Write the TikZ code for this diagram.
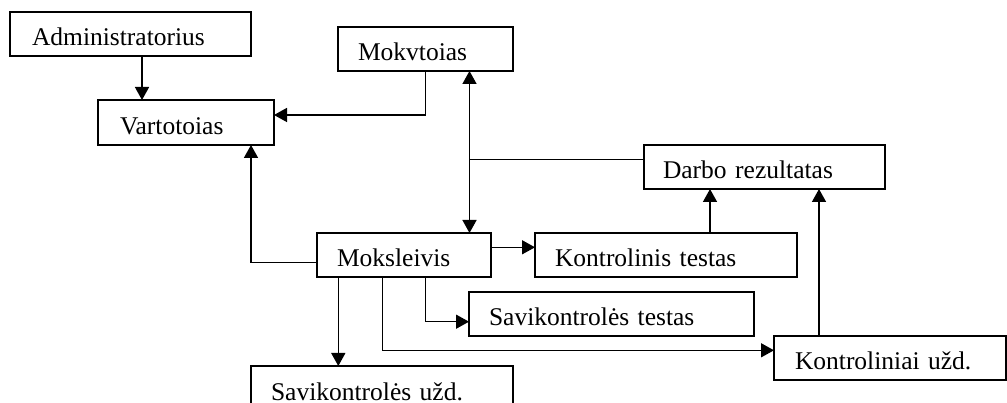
\documentclass[tikz,border=0pt]{standalone}
\usepackage{fontspec}
\setmainfont{Liberation Serif}
\usetikzlibrary{arrows.meta}

\begin{document}
\begin{tikzpicture}[x=1pt, y=-1pt,
  box/.style={draw, line width=1.5pt, inner xsep=0pt, inner ysep=0pt,
    outer sep=0pt, minimum height=44pt, text height=24pt, text depth=0pt,
    align=left, font=\fontsize{25.5}{30}\selectfont},
  link/.style={line width=1.5pt},
  arr/.style={link, -{Triangle[length=13pt, width=14pt]}},
  arrboth/.style={link, {Triangle[length=13pt, width=14pt]}-{Triangle[length=13pt, width=14pt]}}]

  % canvas
  \fill[white] (0,0) rectangle (1007,403);
  \useasboundingbox (0,0) rectangle (1007,403);

  % boxes
  \node[box, minimum width=241pt, text width=197pt] (admin) at (130.5,34) {Administratorius};
  \node[box, minimum width=175pt, text width=135pt] (mokyt) at (425.5,49) {Mokvtoias};
  \node[box, minimum width=176pt, minimum height=45pt, text width=132pt] (vart) at (186,122.5) {Vartotoias};
  \node[box, minimum width=241pt, text width=203pt] (darbo) at (764.5,167) {Darbo rezultatas};
  \node[box, minimum width=174pt, text width=134pt] (moks) at (404,255) {Moksleivis};
  \node[box, minimum width=262pt, text width=222pt] (ktest) at (666,255) {Kontrolinis testas};
  \node[box, minimum width=285pt, text width=245pt] (stest) at (611.5,314) {Savikontrolės testas};
  \node[box, minimum width=232pt, text width=190pt] (kuzd) at (890,358) {Kontroliniai užd.};
  \node[box, minimum width=262pt, text width=222pt] (suzd) at (382,388) {Savikontrolės užd.};

  % helper points
  \coordinate (mid) at ([xshift=65.5pt]moks.north);
  \coordinate (dj) at ([yshift=7.7pt]darbo.west);

  % connectors
  \draw[arr] ([xshift=11.5pt]admin.south) -- ([xshift=-44pt]vart.north);
  \draw[arr] (mokyt.south) |- ([yshift=7.5pt]vart.east);
  \draw[arrboth] (mid) -- ([xshift=44pt]mokyt.south);
  \draw[link] (dj) -- (dj -| mid);
  \draw[arr] ([yshift=7.7pt]moks.east) -- ([yshift=7.7pt]ktest.west);
  \draw[arr] ([xshift=44pt]ktest.north) -- ([xshift=-54.5pt]darbo.south);
  \draw[arr] ([xshift=-71pt]kuzd.north) -- ([xshift=54.5pt]darbo.south);
  \draw[arr] ([yshift=-7.7pt]moks.west) -| ([xshift=65pt]vart.south);
  \draw[arr] ([xshift=21.7pt]moks.south) |- ([yshift=-7.7pt]stest.west);
  \draw[arr] ([xshift=-21.7pt]moks.south) |- ([yshift=7.7pt]kuzd.west);
  \draw[arr] ([xshift=-65.7pt]moks.south) -- ([xshift=-43.7pt]suzd.north);
\end{tikzpicture}
\end{document}
